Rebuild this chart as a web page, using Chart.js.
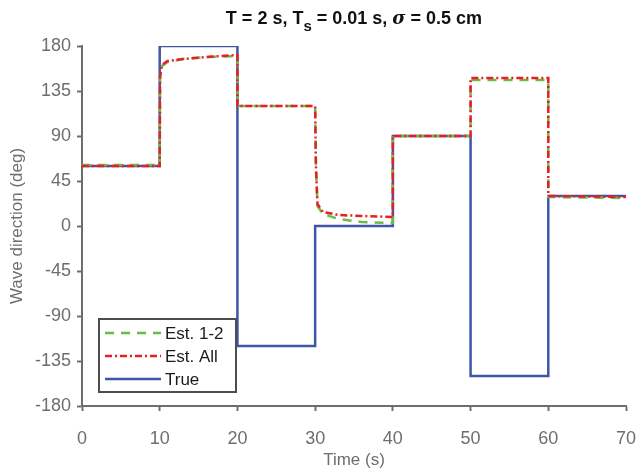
<!DOCTYPE html>
<html>
<head>
<meta charset="utf-8">
<script src="https://cdn.jsdelivr.net/npm/chart.js@4.4.0/dist/chart.umd.min.js"></script>
<style>
  html, body { margin: 0; padding: 0; background: #fff; }
  #wrap { width: 636px; height: 471px; }
</style>
</head>
<body>
<div id="wrap"><canvas id="waveChart" width="636" height="471"></canvas></div>
<script>
// Données
const trueTimes  = [0, 10, 10, 20, 20, 30, 30, 40, 40, 50, 50, 60, 60, 70];
const trueValues = [60, 60, 180, 180, -120, -120, 0, 0, 90, 90, -150, -150, 30, 30];

const est12Times  = [0, 10, 10.05, 10.3, 11, 13, 16, 20, 20, 30, 30.1, 30.3, 31, 33, 36, 40, 40, 50, 50, 60, 60, 70];
const est12Values = [61, 61, 150, 160, 164, 167, 169, 170, 120, 120, 60, 20, 12, 7, 4, 3, 90, 90, 146, 146, 29, 28];

const estAllTimes  = [0, 10, 10.05, 10.3, 11, 13, 16, 20, 20, 30, 30.1, 30.3, 31, 33, 36, 40, 40, 50, 50, 60, 60, 70];
const estAllValues = [60, 60, 150, 161, 165, 167, 169, 171, 120, 120, 60, 22, 14, 11, 10, 9, 90, 90, 148, 148, 30, 29];

const yTicks = [-180, -135, -90, -45, 0, 45, 90, 135, 180];
const xTicks = [0, 10, 20, 30, 40, 50, 60, 70];

const axisGray = '#6e6e6e';
const fontFamily = '"Liberation Sans", Arial, Helvetica, sans-serif';

function toPoints(xs, ys) {
    return xs.map((x, i) => ({ x: x, y: ys[i] }));
}

// Titre avec indice et sigma italique
const titlePlugin = {
    id: 'customTitle',
    afterDraw(chart) {
        const ctx = chart.ctx;
        const area = chart.chartArea;
        const bold = 'bold 18px ' + fontFamily;
        const boldSmall = 'bold 15px ' + fontFamily;
        const italic = 'italic bold 18px "DejaVu Serif", serif';
        const parts = [
            { t: 'T = 2 s, T', f: bold, dy: 0 },
            { t: 's', f: boldSmall, dy: 7 },
            { t: ' = 0.01 s, ', f: bold, dy: 0 },
            { t: 'σ', f: italic, dy: 0 },
            { t: ' = 0.5 cm', f: bold, dy: 0 }
        ];
        ctx.save();
        let total = 0;
        parts.forEach(p => { ctx.font = p.f; p.w = ctx.measureText(p.t).width; total += p.w; });
        let x = (area.left + area.right) / 2 - total / 2;
        const y = 24;
        ctx.fillStyle = '#111';
        ctx.textBaseline = 'alphabetic';
        ctx.textAlign = 'left';
        parts.forEach(p => {
            ctx.font = p.f;
            ctx.fillText(p.t, x, y + p.dy);
            x += p.w;
        });
        ctx.restore();
    }
};

// Légende encadrée dans le coin bas gauche
const boxLegendPlugin = {
    id: 'boxLegend',
    afterDraw(chart) {
        const ctx = chart.ctx;
        const area = chart.chartArea;
        const left = area.left + 17;
        const top = 319;
        const w = 137;
        const h = 73;
        const items = [0, 1, 2].map(i => chart.data.datasets[i]);
        ctx.save();
        ctx.fillStyle = '#fff';
        ctx.fillRect(left, top, w, h);
        ctx.strokeStyle = '#4d4d4d';
        ctx.lineWidth = 2;
        ctx.strokeRect(left, top, w, h);
        ctx.font = '17px ' + fontFamily;
        ctx.textBaseline = 'middle';
        ctx.fillStyle = '#1a1a1a';
        items.forEach((ds, i) => {
            const yy = top + 14 + i * 23;
            ctx.beginPath();
            ctx.strokeStyle = ds.borderColor;
            ctx.lineWidth = ds.borderWidth;
            ctx.setLineDash(ds.borderDash || []);
            ctx.moveTo(left + 6, yy);
            ctx.lineTo(left + 62, yy);
            ctx.stroke();
            ctx.setLineDash([]);
            ctx.fillText(ds.label, left + 66, yy + 1);
        });
        ctx.restore();
    }
};

new Chart(document.getElementById('waveChart'), {
    type: 'line',
    data: {
        datasets: [
            {
                label: 'Est. 1-2',
                data: toPoints(est12Times, est12Values),
                borderColor: '#68bd45',
                borderWidth: 2.5,
                borderDash: [9, 7],
                pointRadius: 0,
                fill: false,
                tension: 0,
                order: 1
            },
            {
                label: 'Est. All',
                data: toPoints(estAllTimes, estAllValues),
                borderColor: '#ec1c24',
                borderWidth: 2.5,
                borderDash: [7, 3, 2, 3],
                pointRadius: 0,
                fill: false,
                tension: 0,
                order: 0
            },
            {
                label: 'True',
                data: toPoints(trueTimes, trueValues),
                borderColor: '#3f55a6',
                borderWidth: 2.5,
                pointRadius: 0,
                fill: false,
                tension: 0,
                order: 2
            }
        ]
    },
    options: {
        responsive: false,
        animation: false,
        layout: { padding: { left: 0, right: 10, top: 46, bottom: 0 } },
        plugins: {
            legend: { display: false },
            tooltip: { enabled: false },
            title: { display: false }
        },
        scales: {
            x: {
                type: 'linear',
                min: 0,
                max: 70,
                afterBuildTicks: axis => { axis.ticks = xTicks.map(v => ({ value: v })); },
                afterFit: axis => { axis.height = 65; axis.paddingRight = 0; axis.paddingLeft = 0; },
                grid: { drawOnChartArea: false, drawTicks: true, tickLength: 5, tickColor: axisGray, tickWidth: 2 },
                border: { color: axisGray, width: 2 },
                ticks: { color: axisGray, font: { family: fontFamily, size: 18 }, padding: 17 },
                title: { display: true, text: 'Time (s)', color: axisGray, font: { family: fontFamily, size: 17 }, padding: { top: 0, bottom: 0 } }
            },
            y: {
                type: 'linear',
                min: -180,
                max: 180,
                afterBuildTicks: axis => { axis.ticks = yTicks.map(v => ({ value: v })); },
                afterFit: axis => { axis.width = 82; axis.paddingTop = 0; axis.paddingBottom = 0; },
                grid: { drawOnChartArea: false, drawTicks: true, tickLength: 5, tickColor: axisGray, tickWidth: 2 },
                border: { color: axisGray, width: 2 },
                ticks: { color: axisGray, font: { family: fontFamily, size: 18 }, padding: 6 },
                title: { display: true, text: 'Wave direction (deg)', color: axisGray, font: { family: fontFamily, size: 17 }, padding: { top: 7, bottom: 0 } }
            }
        }
    },
    plugins: [titlePlugin, boxLegendPlugin]
});
</script>
</body>
</html>
